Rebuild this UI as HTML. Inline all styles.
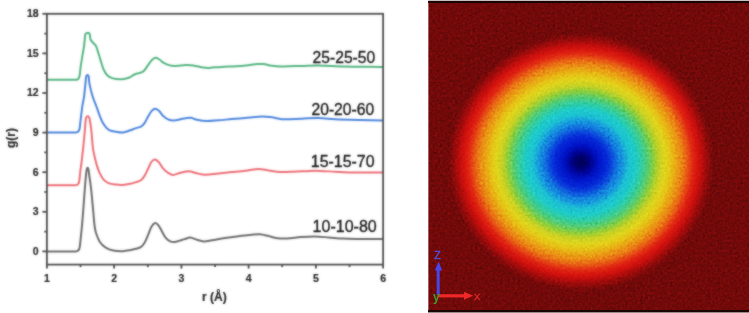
<!DOCTYPE html>
<html><head><meta charset="utf-8"><style>
html,body{margin:0;padding:0;background:#fff;}
body{width:749px;height:313px;position:relative;overflow:hidden;font-family:"Liberation Sans",sans-serif;}
#chart{position:absolute;left:0;top:0;}
#sim{position:absolute;left:428px;top:0;width:321px;height:313px;overflow:hidden;background:rgb(114, 9, 9);}
#sim .disk{position:absolute;left:0;top:0;width:321px;height:313px;background:radial-gradient(ellipse 131px 127px at 152.8px 162px, rgb(0,0,85) 0px, rgb(0,0,110) 6px, rgb(0,5,160) 12px, rgb(0,20,200) 18px, rgb(5,40,215) 26px, rgb(10,70,220) 31px, rgb(18,115,222) 36px, rgb(22,150,222) 42px, rgb(28,192,212) 48px, rgb(30,204,200) 55px, rgb(50,205,160) 61px, rgb(85,205,115) 67px, rgb(140,206,60) 73px, rgb(200,210,35) 79px, rgb(225,212,28) 85px, rgb(230,195,22) 90px, rgb(233,168,20) 95px, rgb(234,140,20) 100px, rgb(233,112,20) 104px, rgb(230,75,20) 108px, rgb(224,40,18) 112px, rgb(216,22,15) 116px, rgb(204,16,13) 119px, rgb(184,13,12) 122px, rgb(162,11,11) 125px, rgb(135,10,10) 129px, rgb(114,9,9) 133px);}
#sim .tb{position:absolute;left:0;width:321px;}
</style></head><body>
<svg id="chart" width="428" height="313" viewBox="0 0 428 313">
<defs><filter id="soft" filterUnits="userSpaceOnUse" x="0" y="0" width="428" height="313" color-interpolation-filters="sRGB">
<feGaussianBlur in="SourceGraphic" stdDeviation="0.9" result="b"/>
<feComposite in="SourceGraphic" in2="b" operator="arithmetic" k1="0" k2="0.45" k3="0.55" k4="0"/>
</filter></defs>
<g filter="url(#soft)">
<g fill="none" stroke-linejoin="round" stroke-linecap="round">
<path d="M47.40,79.80 C56.77,79.80 66.13,79.89 75.50,79.80 C76.08,79.79 76.67,79.71 77.20,79.50 C77.69,79.30 78.18,79.02 78.50,78.60 C78.90,78.08 79.13,77.43 79.30,76.80 C79.60,75.72 79.75,74.61 79.90,73.50 C80.18,71.41 80.33,69.29 80.60,67.20 C80.86,65.23 81.19,63.27 81.50,61.30 C81.79,59.43 82.09,57.56 82.40,55.70 C82.72,53.80 83.06,51.90 83.40,50.00 C83.60,48.90 83.86,47.81 84.00,46.70 C84.36,43.74 84.53,40.76 84.90,37.80 C85.07,36.46 84.98,35.01 85.60,33.80 C85.90,33.20 86.74,33.01 87.40,32.90 C88.00,32.80 88.73,32.81 89.20,33.20 C89.69,33.61 89.76,34.37 89.90,35.00 C90.23,36.55 89.99,38.24 90.60,39.70 C91.13,40.97 92.31,41.85 93.20,42.90 C94.11,43.98 95.30,44.87 96.00,46.10 C96.79,47.48 97.10,49.09 97.60,50.60 C98.30,52.72 98.94,54.86 99.60,57.00 C100.24,59.10 100.83,61.21 101.50,63.30 C102.17,65.38 102.66,67.53 103.60,69.50 C104.57,71.53 105.58,73.65 107.20,75.20 C108.77,76.71 110.80,77.82 112.90,78.40 C115.71,79.18 118.69,79.31 121.60,79.20 C124.04,79.11 126.50,78.64 128.80,77.80 C130.86,77.05 132.51,75.43 134.50,74.50 C135.86,73.86 137.37,73.58 138.80,73.10 C140.27,72.61 142.01,72.59 143.20,71.60 C145.03,70.08 146.07,67.81 147.50,65.90 C148.94,63.97 150.13,61.83 151.80,60.10 C152.80,59.06 153.96,57.81 155.40,57.70 C156.86,57.58 158.16,58.73 159.40,59.50 C160.98,60.48 162.19,61.98 163.80,62.90 C165.65,63.96 167.63,64.87 169.70,65.40 C171.61,65.89 173.63,65.95 175.60,65.90 C179.01,65.82 182.39,65.10 185.80,65.00 C188.27,64.93 190.76,65.04 193.20,65.40 C196.67,65.91 200.03,67.06 203.50,67.60 C205.41,67.90 207.37,67.98 209.30,67.90 C213.24,67.74 217.16,67.15 221.10,66.90 C226.00,66.59 230.90,66.49 235.80,66.20 C239.20,65.99 242.61,65.74 246.00,65.40 C249.94,65.01 253.85,64.29 257.80,64.00 C259.86,63.85 261.95,63.86 264.00,64.10 C266.03,64.33 267.97,65.14 270.00,65.40 C273.88,65.90 277.79,66.34 281.70,66.40 C288.37,66.51 295.03,66.08 301.70,65.90 C307.27,65.75 312.83,65.33 318.40,65.40 C326.74,65.50 335.06,66.19 343.40,66.40 C356.60,66.73 369.80,66.80 383.00,67.00" stroke="#52b47f" stroke-width="2.00"/>
<path d="M47.40,132.40 C56.77,132.40 66.13,132.49 75.50,132.40 C76.11,132.39 76.74,132.34 77.30,132.10 C77.80,131.89 78.27,131.54 78.60,131.10 C78.99,130.57 79.22,129.93 79.40,129.30 C79.66,128.39 79.78,127.44 79.90,126.50 C80.11,124.84 80.21,123.16 80.40,121.50 C80.58,119.93 80.81,118.37 81.00,116.80 C81.24,114.87 81.46,112.93 81.70,111.00 C81.92,109.23 82.11,107.46 82.40,105.70 C82.71,103.79 83.16,101.91 83.50,100.00 C83.76,98.54 84.03,97.08 84.20,95.60 C84.70,91.34 85.04,87.06 85.50,82.80 C85.74,80.60 85.78,78.35 86.30,76.20 C86.43,75.67 86.86,75.00 87.40,75.00 C87.97,75.00 88.47,75.65 88.60,76.20 C89.12,78.35 88.92,80.62 89.30,82.80 C89.82,85.80 90.54,88.76 91.30,91.70 C91.94,94.16 92.67,96.60 93.50,99.00 C94.37,101.53 95.46,103.99 96.40,106.50 C96.96,107.99 97.47,109.50 98.00,111.00 C98.53,112.50 99.02,114.02 99.60,115.50 C100.39,117.52 101.07,119.60 102.10,121.50 C103.21,123.55 104.48,125.54 106.00,127.30 C107.07,128.54 108.31,129.73 109.80,130.40 C111.67,131.24 113.78,131.39 115.80,131.70 C118.18,132.06 120.60,132.63 123.00,132.40 C125.46,132.16 127.76,131.08 130.10,130.30 C132.06,129.65 133.94,128.75 135.90,128.10 C137.54,127.55 139.40,127.57 140.90,126.70 C142.37,125.85 143.51,124.48 144.50,123.10 C145.94,121.08 146.85,118.74 148.10,116.60 C149.25,114.64 150.17,112.48 151.70,110.80 C152.64,109.77 153.91,108.70 155.30,108.70 C156.69,108.70 157.87,109.86 158.90,110.80 C160.54,112.30 161.54,114.42 163.20,115.90 C164.94,117.45 166.80,119.03 169.00,119.80 C171.11,120.54 173.47,120.48 175.70,120.30 C177.99,120.11 180.14,119.08 182.40,118.70 C185.05,118.25 187.72,117.60 190.40,117.80 C192.69,117.97 194.75,119.34 197.00,119.80 C200.10,120.44 203.24,121.03 206.40,121.10 C210.41,121.19 214.40,120.61 218.40,120.30 C222.87,119.95 227.33,119.48 231.80,119.10 C236.23,118.72 240.67,118.40 245.10,118.00 C249.57,117.60 254.02,116.88 258.50,116.70 C262.33,116.55 266.19,116.59 270.00,117.00 C273.95,117.43 277.74,118.99 281.70,119.20 C288.36,119.56 295.03,118.92 301.70,118.70 C307.27,118.52 312.83,117.92 318.40,118.00 C323.98,118.08 329.53,118.93 335.10,119.20 C343.43,119.60 351.77,119.79 360.10,120.00 C367.73,120.19 375.37,120.27 383.00,120.40" stroke="#4a84dc" stroke-width="2.00"/>
<path d="M47.40,185.20 C56.70,185.20 66.00,185.29 75.30,185.20 C75.88,185.19 76.47,185.12 77.00,184.90 C77.46,184.71 77.90,184.40 78.20,184.00 C78.59,183.47 78.83,182.83 79.00,182.20 C79.27,181.22 79.38,180.21 79.50,179.20 C79.88,176.01 80.12,172.79 80.50,169.60 C80.72,167.73 81.06,165.87 81.30,164.00 C81.66,161.24 81.97,158.47 82.30,155.70 C82.60,153.13 82.94,150.57 83.20,148.00 C83.81,142.00 84.36,136.00 84.90,130.00 C85.23,126.34 85.29,122.64 85.80,119.00 C85.93,118.11 86.30,117.24 86.80,116.50 C86.98,116.24 87.38,116.20 87.70,116.20 C88.02,116.20 88.42,116.24 88.60,116.50 C89.10,117.24 89.42,118.12 89.60,119.00 C90.33,122.64 90.88,126.31 91.30,130.00 C91.98,135.99 92.18,142.02 92.90,148.00 C93.21,150.60 93.82,153.15 94.40,155.70 C95.18,159.12 95.98,162.54 97.00,165.90 C97.72,168.28 98.53,170.65 99.60,172.90 C100.67,175.14 101.77,177.43 103.40,179.30 C104.79,180.90 106.55,182.27 108.50,183.10 C110.78,184.08 113.33,184.29 115.80,184.60 C118.18,184.90 120.60,185.03 123.00,184.90 C125.39,184.77 127.76,184.31 130.10,183.80 C132.07,183.37 133.98,182.72 135.90,182.10 C137.59,181.55 139.46,181.34 140.90,180.30 C142.44,179.19 143.50,177.51 144.50,175.90 C145.92,173.62 146.90,171.10 148.10,168.70 C149.30,166.30 150.10,163.65 151.70,161.50 C152.48,160.45 153.70,159.26 155.00,159.40 C156.61,159.58 157.83,161.08 158.90,162.30 C160.60,164.23 161.50,166.77 163.20,168.70 C164.67,170.37 166.43,171.80 168.30,173.00 C169.73,173.92 171.30,175.00 173.00,175.00 C175.33,175.00 177.43,173.53 179.70,173.00 C182.77,172.29 185.85,171.30 189.00,171.30 C191.30,171.30 193.45,172.51 195.70,173.00 C198.78,173.67 201.84,174.74 205.00,174.80 C209.49,174.88 213.93,173.85 218.40,173.40 C222.87,172.95 227.33,172.53 231.80,172.10 C236.23,171.67 240.68,171.31 245.10,170.80 C249.58,170.28 253.99,169.08 258.50,169.00 C261.80,168.94 265.03,169.94 268.30,170.40 C272.20,170.94 276.07,171.80 280.00,172.00 C284.46,172.23 288.94,171.86 293.40,171.70 C298.94,171.50 304.46,171.07 310.00,170.90 C313.33,170.80 316.67,170.79 320.00,170.90 C325.04,171.06 330.07,171.45 335.10,171.70 C340.67,171.98 346.23,172.41 351.80,172.50 C362.20,172.67 372.60,172.50 383.00,172.50" stroke="#ec6c74" stroke-width="2.00"/>
<path d="M47.40,251.40 C56.70,251.40 66.00,251.49 75.30,251.40 C75.94,251.39 76.60,251.33 77.20,251.10 C77.69,250.91 78.17,250.61 78.50,250.20 C78.92,249.68 79.21,249.04 79.40,248.40 C79.72,247.29 79.85,246.14 80.00,245.00 C80.25,243.07 80.40,241.13 80.60,239.20 C81.00,235.37 81.45,231.54 81.80,227.70 C82.28,222.47 82.69,217.24 83.10,212.00 C83.72,204.00 84.27,196.00 84.90,188.00 C85.24,183.66 85.56,179.33 86.00,175.00 C86.19,173.09 86.38,171.17 86.80,169.30 C86.92,168.75 87.03,167.80 87.60,167.80 C88.17,167.80 88.28,168.75 88.40,169.30 C88.82,171.17 88.94,173.10 89.20,175.00 C89.80,179.33 90.52,183.65 91.00,188.00 C91.89,195.99 92.54,204.00 93.30,212.00 C93.74,216.67 93.99,221.35 94.60,226.00 C94.92,228.46 95.32,230.94 96.10,233.30 C97.10,236.30 98.14,239.37 99.90,242.00 C101.40,244.26 103.42,246.24 105.70,247.70 C107.98,249.16 110.64,250.06 113.30,250.60 C116.44,251.24 119.69,251.28 122.90,251.20 C125.29,251.14 127.65,250.64 130.00,250.20 C131.96,249.84 133.89,249.35 135.80,248.80 C137.49,248.31 139.33,248.07 140.80,247.10 C142.30,246.11 143.47,244.63 144.40,243.10 C145.90,240.62 146.85,237.85 148.00,235.20 C149.25,232.32 150.01,229.21 151.60,226.50 C152.46,225.04 153.51,223.06 155.20,222.90 C156.73,222.75 157.86,224.58 158.80,225.80 C160.31,227.77 161.15,230.16 162.40,232.30 C163.55,234.26 164.51,236.38 166.00,238.10 C167.18,239.46 168.65,240.65 170.30,241.40 C171.62,242.00 173.16,242.08 174.60,242.00 C176.08,241.91 177.48,241.31 178.90,240.90 C180.85,240.34 182.76,239.66 184.70,239.10 C186.56,238.56 188.37,237.49 190.30,237.60 C192.65,237.73 194.74,239.16 197.00,239.80 C199.21,240.43 201.41,241.32 203.70,241.40 C206.39,241.49 209.04,240.72 211.70,240.30 C216.14,239.59 220.55,238.67 225.00,238.00 C229.45,237.33 233.93,236.85 238.40,236.30 C242.86,235.75 247.32,235.14 251.80,234.70 C254.46,234.44 257.13,234.02 259.80,234.20 C262.51,234.39 265.15,235.17 267.80,235.80 C270.49,236.44 273.06,237.61 275.80,238.00 C279.50,238.52 283.27,238.63 287.00,238.50 C291.69,238.33 296.32,237.43 301.00,237.10 C305.66,236.77 310.33,236.43 315.00,236.50 C319.68,236.57 324.33,237.15 329.00,237.50 C333.67,237.85 338.32,238.37 343.00,238.60 C347.66,238.83 352.33,238.86 357.00,238.90 C365.67,238.96 374.33,238.90 383.00,238.90" stroke="#6a6a6a" stroke-width="2.00"/>
</g>
<g stroke="#4c4c4c" stroke-width="1.8" fill="none">
<rect x="46.9" y="13.8" width="336.2" height="250.8"/>
<line x1="42.4" y1="251.4" x2="46.9" y2="251.4"/>
<line x1="42.4" y1="211.8" x2="46.9" y2="211.8"/>
<line x1="42.4" y1="172.2" x2="46.9" y2="172.2"/>
<line x1="42.4" y1="132.6" x2="46.9" y2="132.6"/>
<line x1="42.4" y1="93.0" x2="46.9" y2="93.0"/>
<line x1="42.4" y1="53.4" x2="46.9" y2="53.4"/>
<line x1="42.4" y1="13.8" x2="46.9" y2="13.8"/>
<line x1="44.4" y1="231.6" x2="46.9" y2="231.6"/>
<line x1="44.4" y1="192.0" x2="46.9" y2="192.0"/>
<line x1="44.4" y1="152.4" x2="46.9" y2="152.4"/>
<line x1="44.4" y1="112.8" x2="46.9" y2="112.8"/>
<line x1="44.4" y1="73.2" x2="46.9" y2="73.2"/>
<line x1="44.4" y1="33.6" x2="46.9" y2="33.6"/>
<line x1="46.9" y1="264.6" x2="46.9" y2="268.6"/>
<line x1="114.1" y1="264.6" x2="114.1" y2="268.6"/>
<line x1="181.4" y1="264.6" x2="181.4" y2="268.6"/>
<line x1="248.6" y1="264.6" x2="248.6" y2="268.6"/>
<line x1="315.9" y1="264.6" x2="315.9" y2="268.6"/>
<line x1="383.1" y1="264.6" x2="383.1" y2="268.6"/>
<line x1="80.5" y1="264.6" x2="80.5" y2="267.1"/>
<line x1="147.8" y1="264.6" x2="147.8" y2="267.1"/>
<line x1="215.0" y1="264.6" x2="215.0" y2="267.1"/>
<line x1="282.2" y1="264.6" x2="282.2" y2="267.1"/>
<line x1="349.5" y1="264.6" x2="349.5" y2="267.1"/>
</g>
<g font-family="Liberation Sans, sans-serif" font-size="10.5" font-weight="bold" fill="#262626" stroke="#262626" stroke-width="0.2">
<text x="38.6" y="254.8" text-anchor="end">0</text>
<text x="38.6" y="215.2" text-anchor="end">3</text>
<text x="38.6" y="175.6" text-anchor="end">6</text>
<text x="38.6" y="136.0" text-anchor="end">9</text>
<text x="38.6" y="96.4" text-anchor="end">12</text>
<text x="38.6" y="56.8" text-anchor="end">15</text>
<text x="38.6" y="17.2" text-anchor="end">18</text>
<text x="46.9" y="281.5" text-anchor="middle">1</text>
<text x="114.1" y="281.5" text-anchor="middle">2</text>
<text x="181.4" y="281.5" text-anchor="middle">3</text>
<text x="248.6" y="281.5" text-anchor="middle">4</text>
<text x="315.9" y="281.5" text-anchor="middle">5</text>
<text x="383.1" y="281.5" text-anchor="middle">6</text>
<text x="0" y="0" transform="translate(15.2,138) rotate(-90)" text-anchor="middle" font-size="12">g(r)</text>
<text x="214.4" y="301" text-anchor="middle" font-size="12">r (&#197;)</text>
</g>
<g font-family="Liberation Sans, sans-serif" font-size="15.6" fill="#181818" stroke="#181818" stroke-width="0.35">
<text x="312.6" y="63" textLength="62.6" lengthAdjust="spacingAndGlyphs">25-25-50</text>
<text x="311.5" y="114.8" textLength="62.6" lengthAdjust="spacingAndGlyphs">20-20-60</text>
<text x="310.8" y="167.3" textLength="63.8" lengthAdjust="spacingAndGlyphs">15-15-70</text>
<text x="312.6" y="232.3" textLength="64.2" lengthAdjust="spacingAndGlyphs">10-10-80</text>
</g>
</g>
</svg>
<div id="sim">
<div class="disk"></div>
<svg width="321" height="313" style="position:absolute;left:0;top:0;mix-blend-mode:overlay;opacity:0.6">
<filter id="nz" x="0" y="0" width="100%" height="100%" color-interpolation-filters="sRGB"><feTurbulence type="fractalNoise" baseFrequency="0.4" numOctaves="2" seed="7"/><feColorMatrix type="matrix" values="0.33 0.33 0.33 0 0 0.33 0.33 0.33 0 0 0.33 0.33 0.33 0 0 0 0 0 0 1"/></filter>
<rect width="321" height="313" filter="url(#nz)"/>
</svg>
<div class="tb" style="top:0;height:1px;background:#c8bcbc"></div>
<div style="position:absolute;left:0;top:0;width:1px;height:313px;background:rgba(255,255,255,0.35)"></div>
<div class="tb" style="top:1px;height:2px;background:#1a0505"></div>
<div class="tb" style="top:310px;height:2px;background:#1a0505"></div>
<div class="tb" style="top:312px;height:1px;background:#9a8a8a"></div>
<svg width="60" height="60" style="position:absolute;left:0;top:250px">
<line x1="10.2" y1="45" x2="10.2" y2="19" stroke="#4646ea" stroke-width="3"/>
<polygon points="10.6,11.5 6.8,20.5 14.2,20.5" fill="#4646ea"/>
<text x="6.3" y="8.6" font-family="Liberation Sans, sans-serif" font-size="10.5" fill="#5050dc" stroke="#5050dc" stroke-width="0.5">Z</text>
<line x1="10" y1="45.8" x2="37" y2="45.8" stroke="#f02828" stroke-width="3.2"/>
<polygon points="45.2,45.8 36,41.8 36,49.8" fill="#f02828"/>
<text x="46" y="49.8" font-family="Liberation Sans, sans-serif" font-size="9.5" fill="#dc2828" stroke="#dc2828" stroke-width="0.4">X</text>
<text x="5" y="51" font-family="Liberation Sans, sans-serif" font-size="12" font-weight="bold" fill="#3ca028">y</text>
</svg>
</div>
</body></html>
